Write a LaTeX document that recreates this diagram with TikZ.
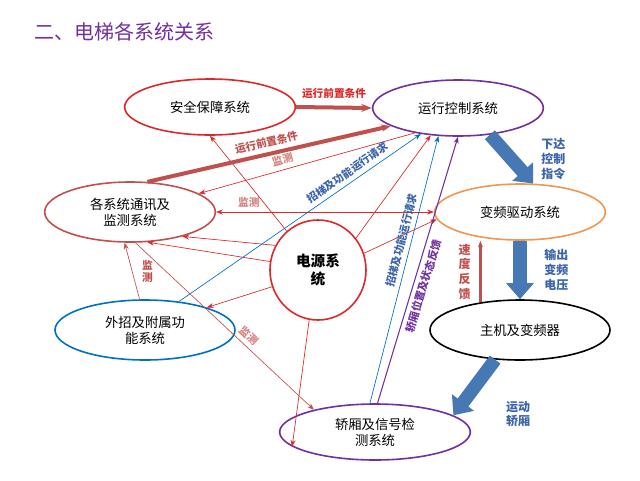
\documentclass[tikz,border=0pt]{standalone}
\usepackage{fontspec}
\setmainfont{Noto Sans CJK SC}
\usetikzlibrary{positioning, arrows.meta, shapes.geometric}
\definecolor{sysred}{RGB}{220,40,40}
\definecolor{sysbrown}{RGB}{192,80,77}
\definecolor{sysblue}{RGB}{0,112,192}
\definecolor{syspurple}{RGB}{112,48,160}
\definecolor{sysorange}{RGB}{240,150,80}
\definecolor{bigblue}{RGB}{70,120,180}
\definecolor{labblue}{RGB}{60,100,170}
\begin{document}
\begin{tikzpicture}[x=0.75pt, y=-0.75pt, font=\fontsize{10pt}{12pt}\selectfont]
\tikzset{
  sys/.style={ellipse, line width=1.2pt, align=center, inner sep=0pt, text=black},
  thin/.style={-{Stealth[length=5pt]}, line width=0.5pt, sysred},
  big/.style={-{Triangle[length=12pt,width=20pt]}, line width=10pt, bigblue},
  lab/.style={font=\fontsize{8pt}{9pt}\selectfont\bfseries, sloped},
  vlab/.style={font=\fontsize{9pt}{11pt}\selectfont\bfseries, align=center}
}
\useasboundingbox (0,0) rectangle (640,480);

% TITLE
\node[anchor=west, text=syspurple, font=\fontsize{15pt}{18pt}\selectfont] (title) at (30,32) {二、电梯各系统关系};

% SYSTEMS
\node[sys, draw=sysred, minimum width=128pt, minimum height=42pt] (safe) at (210,107) {安全保障系统};
\node[sys, draw=syspurple, minimum width=128pt, minimum height=42pt] (ctrl) at (458,108) {运行控制系统};
\node[sys, draw=sysbrown, minimum width=128pt, minimum height=45pt] (comm) at (130,212) {各系统通讯及\\监测系统};
\node[sys, draw=sysorange, minimum width=128pt, minimum height=42pt] (drive) at (520,212) {变频驱动系统};
\node[sys, draw=sysred, minimum width=72pt, minimum height=75pt, font=\fontsize{11pt}{14pt}\selectfont\bfseries] (power) at (318,270) {电源系\\统};
\node[sys, draw=sysblue, minimum width=135pt, minimum height=45pt] (func) at (145,330) {外招及附属功\\能系统};
\node[sys, draw=black, minimum width=135pt, minimum height=45pt] (motor) at (520,330) {主机及变频器};
\node[sys, draw=syspurple, minimum width=143pt, minimum height=42pt] (car) at (375,432) {轿厢及信号检\\测系统};

% POWER SUPPLY
\draw[thin] (power) -- (safe.-90);
\draw[thin] (power.150) -- (comm.-25);
\draw[thin] (power.170) -- (comm.-60);
\draw[thin] (power.200) -- (func.20);
\draw[thin] (power.40) -- (ctrl.-135);
\draw[thin] (power.20) -- (drive.185);
\draw[thin] (power.-100) -- (car.-170);

% MONITORING
\draw[thin, sysbrown, -{Stealth[length=7pt]}, line width=3pt] (comm.60) -- node[lab, above, text=sysbrown] {运行前置条件} (ctrl.-165);
\draw[thin, sysbrown, -{Stealth[length=8pt]}, line width=3pt] (safe.east) -- node[lab, above=2pt, sloped=false, text=sysred] {运行前置条件} (ctrl.west);
\draw[thin] (ctrl.-150) -- node[lab, above, pos=0.6, text=sysbrown!70] {监测} (comm.15);
\draw[thin, {Stealth[length=5pt]}-{Stealth[length=5pt]}] (comm.east) -- node[lab, above, pos=0.15, sloped=false, text=sysbrown!70] {监测} (drive.west);
\draw[thin, sysbrown] (func.100) -- node[lab, right=4pt, sloped=false, align=center, text=sysbrown] {监\\测} (comm.-100);
\draw[thin, sysbrown] (comm.-80) -- node[lab, above, pos=0.6, text=sysbrown!70] {监测} (car.160);

% REQUESTS AND FEEDBACK
\draw[thin, sysblue] (func.40) -- node[lab, above, pos=0.72, text=labblue] {招梯及功能运行请求} (ctrl.-145);
\draw[thin, sysblue] (car.100) -- node[lab, above, pos=0.6, text=labblue] {招梯及功能运行请求} (ctrl.-125);
\draw[thin, syspurple, line width=0.8pt] (car.85) -- node[lab, below, pos=0.45, text=syspurple] {轿厢位置及状态反馈} (ctrl.-90);
\draw[thin, sysbrown, line width=2pt] (motor.145) -- node[vlab, left=3pt, text=sysbrown] {速\\度\\反\\馈} (motor.145 |- drive.south);

% DRIVE CHAIN
\draw[big] (ctrl.-40) -- node[vlab, right=14pt, text=labblue] {下达\\控制\\指令} (drive.65);
\draw[big] (drive.south) -- node[vlab, right=10pt, text=labblue] {输出\\变频\\电压} (motor.north);
\draw[big] (motor.-130) -- node[vlab, pos=0.45, below right=4pt and 14pt, text=labblue] {运动\\轿厢} (car.12);
\end{tikzpicture}
\end{document}
